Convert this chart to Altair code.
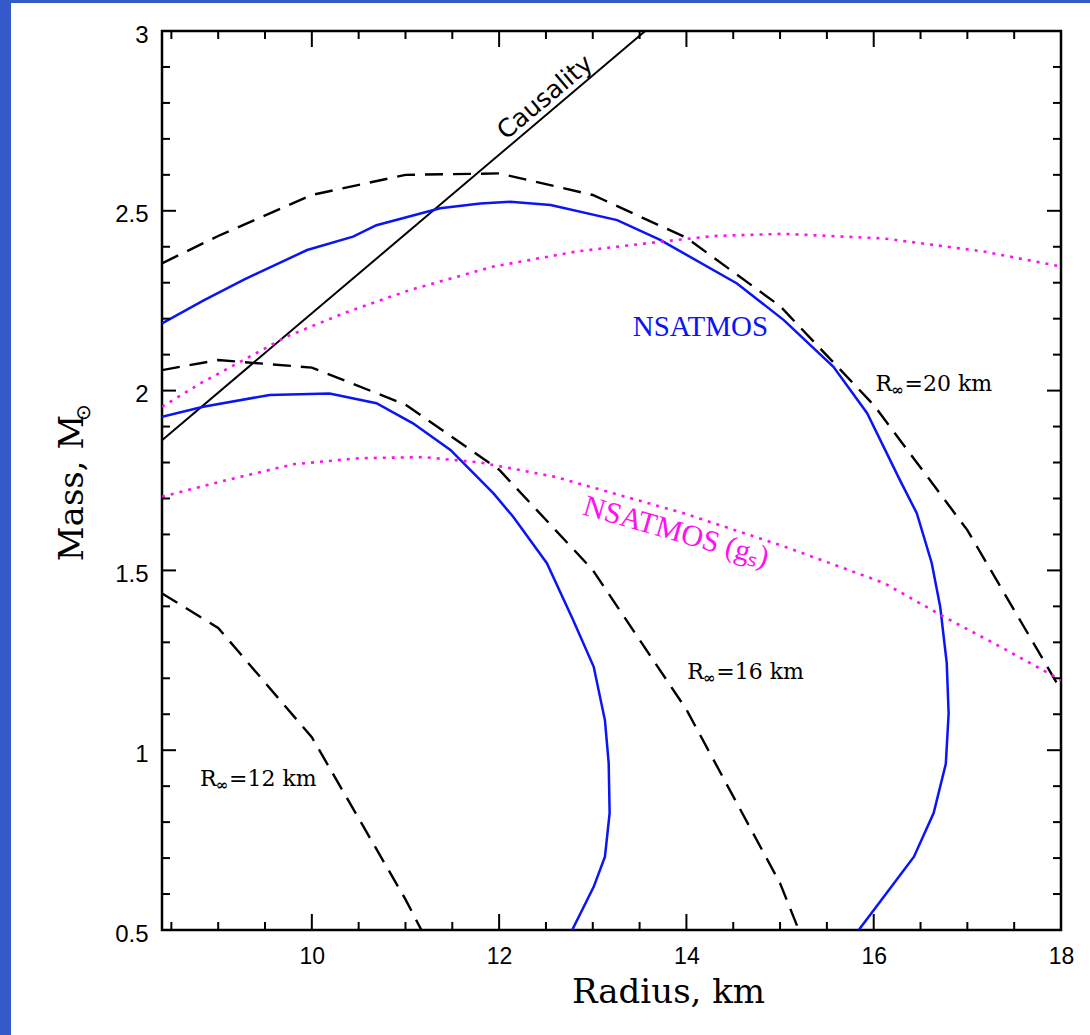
import altair as alt
import pandas as pd

# ---------------- data ----------------
# NSATMOS (upper, blue solid)
nsat_hi_R = [8.40, 8.84, 9.27, 9.95, 10.44, 10.69, 11.37, 11.80, 12.12, 12.55, 13.26, 13.72,
             14.54, 15.04, 15.57, 15.93, 16.28, 16.46, 16.62, 16.71, 16.78, 16.80, 16.77,
             16.64, 16.43, 16.11, 15.84]
nsat_hi_M = [2.187, 2.250, 2.308, 2.391, 2.428, 2.460, 2.507, 2.520, 2.525, 2.516, 2.474, 2.419,
             2.298, 2.196, 2.066, 1.937, 1.751, 1.659, 1.520, 1.399, 1.242, 1.102, 0.962,
             0.825, 0.704, 0.593, 0.500]
# NSATMOS (lower, blue solid)
nsat_lo_R = [8.40, 8.84, 9.55, 10.19, 10.69, 11.08, 11.48, 11.80, 11.94, 12.15, 12.51, 12.79,
             13.01, 13.13, 13.17, 13.18, 13.13, 13.01, 12.78]
nsat_lo_M = [1.927, 1.955, 1.988, 1.992, 1.965, 1.909, 1.835, 1.751, 1.714, 1.649, 1.520, 1.362,
             1.232, 1.083, 0.964, 0.825, 0.704, 0.620, 0.500]
# R_inf = 20 km (black dashed)
r20_R = [8.40, 9.0, 10.0, 11.0, 12.0, 13.0, 14.0, 15.0, 16.0, 17.0, 18.0]
r20_M = [2.354, 2.430, 2.544, 2.600, 2.604, 2.544, 2.425, 2.235, 1.960, 1.612, 1.167]
# R_inf = 16 km (black dashed)
r16_R = [8.40, 9.0, 10.0, 11.0, 12.0, 13.0, 14.0, 15.0, 15.20]
r16_M = [2.057, 2.085, 2.064, 1.961, 1.780, 1.501, 1.113, 0.630, 0.500]
# R_inf = 12 km (black dashed)
r12_R = [8.40, 9.0, 10.0, 11.0, 11.17]
r12_M = [1.436, 1.340, 1.036, 0.585, 0.500]
# NSATMOS (g_s), upper (magenta dotted)
gs_hi_R = [8.40, 8.81, 9.27, 9.73, 10.34, 11.05, 11.94, 12.83, 13.72, 14.30, 15.04, 16.11, 17.17, 18.0]
gs_hi_M = [1.955, 2.020, 2.085, 2.150, 2.215, 2.280, 2.345, 2.387, 2.414, 2.430, 2.436, 2.423, 2.387, 2.345]
# NSATMOS (g_s), lower (magenta dotted)
gs_lo_R = [8.40, 9.09, 9.80, 10.50, 11.20, 11.80, 12.60, 13.97, 15.04, 16.11, 16.75, 17.35, 18.0]
gs_lo_M = [1.705, 1.751, 1.795, 1.812, 1.815, 1.800, 1.760, 1.659, 1.567, 1.465, 1.371, 1.288, 1.195]
# causality limit
caus_R = [8.40, 13.56]
caus_M = [1.862, 3.00]

# axis ticks / labels
x_labels = [10, 12, 14, 16, 18]
x_major = [10, 12, 14, 16]
x_minor = [8.5, 9, 9.5, 10.5, 11, 11.5, 12.5, 13, 13.5, 14.5, 15, 15.5, 16.5, 17, 17.5]
y_labels = [0.5, 1, 1.5, 2, 2.5, 3]
y_major = [1, 1.5, 2, 2.5]
y_minor = [0.6, 0.7, 0.8, 0.9, 1.1, 1.2, 1.3, 1.4, 1.6, 1.7, 1.8, 1.9,
           2.1, 2.2, 2.3, 2.4, 2.6, 2.7, 2.8, 2.9]

# text labels
rinf_text = ["=20 km", "=16 km", "=12 km"]
rinf_R = [16.02, 14.01, 8.806]
rinf_M = [2.018, 1.217, 0.920]

W, H = 899, 899
BLUE = "#0a14f5"
MAG = "#ff10f0"

XS = alt.Scale(domain=[8.4, 18], nice=False, zero=False)
YS = alt.Scale(domain=[0.5, 3], nice=False, zero=False)

x_axis = alt.Axis(
    values=x_labels, format="d", title="Radius, km", ticks=False,
    domain=False, grid=False, labelFont="Liberation Sans", labelFontSize=23,
    labelPadding=15, labelColor="black", labelFlush=False, labelOverlap=False,
    titleFont="DejaVu Serif", titleFontSize=34, titleFontWeight="normal",
    titleColor="black", titleX=506, titleY=72, titleAlign="center",
    titleBaseline="alphabetic",
)
y_axis = alt.Axis(
    values=y_labels, format="~g", title="Mass, M", ticks=False,
    domain=False, grid=False, labelFont="Liberation Sans", labelFontSize=24,
    labelPadding=14, labelColor="black", labelFlush=False, labelOverlap=False,
    labelBaseline="middle", labelOffset=4,
    titleFont="DejaVu Serif", titleFontSize=34, titleFontWeight="normal",
    titleColor="black", titleX=-80, titleY=456.5, titleAngle=270,
    titleAlign="center", titleBaseline="alphabetic",
)


def X(f):
    return alt.X(f"{f}:Q", scale=XS, axis=x_axis)


def Y(f):
    return alt.Y(f"{f}:Q", scale=YS, axis=y_axis)


def cdf(R, M):
    return pd.DataFrame({"R": R, "M": M, "i": list(range(len(R)))})


def line(R, M, color, width, dash=None):
    kw = dict(color=color, strokeWidth=width, clip=True)
    if dash:
        kw["strokeDash"] = dash
        kw["strokeCap"] = "butt"
    return alt.Chart(cdf(R, M)).mark_line(**kw).encode(
        x=X("R"), y=Y("M"), order="i:Q")


layers = [
    line(caus_R, caus_M, "black", 2),
    line(nsat_hi_R, nsat_hi_M, BLUE, 2.5),
    line(nsat_lo_R, nsat_lo_M, BLUE, 2.5),
    line(r20_R, r20_M, "black", 2.4, [18, 10]),
    line(r16_R, r16_M, "black", 2.4, [18, 10]),
    line(r12_R, r12_M, "black", 2.4, [18, 10]),
    line(gs_hi_R, gs_hi_M, MAG, 2.6, [3, 6]),
    line(gs_lo_R, gs_lo_M, MAG, 2.6, [3, 6]),
]


# inward ticks on all four sides
def xticks(vals, length):
    d = pd.DataFrame({"v": vals})
    b = alt.Chart(d).mark_rule(color="black", strokeWidth=2).encode(
        x=X("v"), y=alt.value(H), y2=alt.value(H - length))
    t = alt.Chart(d).mark_rule(color="black", strokeWidth=2).encode(
        x=X("v"), y=alt.value(0), y2=alt.value(length))
    return [b, t]


def yticks(vals, length):
    d = pd.DataFrame({"v": vals})
    l = alt.Chart(d).mark_rule(color="black", strokeWidth=2).encode(
        y=Y("v"), x=alt.value(0), x2=alt.value(length))
    r = alt.Chart(d).mark_rule(color="black", strokeWidth=2).encode(
        y=Y("v"), x=alt.value(W), x2=alt.value(W - length))
    return [l, r]


layers += xticks(x_major, 16) + xticks(x_minor, 8)
layers += yticks(y_major, 14) + yticks(y_minor, 8)


def text(df, **kw):
    return alt.Chart(df).mark_text(**kw).encode(x=X("R"), y=Y("M"), text="t:N")


layers.append(text(pd.DataFrame({"R": [12.49], "M": [2.816], "t": ["Causality"]}),
                   font="DejaVu Sans", fontSize=25, color="black", angle=320,
                   align="center", baseline="middle"))
layers.append(text(pd.DataFrame({"R": [14.15], "M": [2.177], "t": ["NSATMOS"]}),
                   font="Liberation Serif", fontSize=29, color=BLUE,
                   align="center", baseline="middle"))
layers.append(text(pd.DataFrame({"R": [13.89], "M": [1.607], "t": ["NSATMOS (g\u209b)"]}),
                   font="Liberation Serif", fontSize=30, color=MAG, angle=16,
                   align="center", baseline="middle"))

rinf = pd.DataFrame({"R": rinf_R, "M": rinf_M, "t": rinf_text})
rr = pd.DataFrame({"R": rinf_R, "M": rinf_M, "t": ["R"] * 3})
ri = pd.DataFrame({"R": rinf_R, "M": rinf_M, "t": ["\u221e"] * 3})
layers.append(text(rr, font="DejaVu Serif", fontSize=22, color="black",
                   align="left", baseline="middle"))
layers.append(text(ri, font="DejaVu Serif", fontSize=15, fontWeight="bold", color="black",
                   align="left", baseline="middle", dx=16, dy=6))
layers.append(text(rinf, font="DejaVu Serif", fontSize=22, color="black",
                   align="left", baseline="middle", dx=29))

# solar-mass subscript of the y title
layers.append(alt.Chart(pd.DataFrame({"t": ["\u2299"]})).mark_text(
    font="DejaVu Sans", fontSize=20, color="black", angle=270,
    align="center", baseline="middle", clip=False,
).encode(x=alt.value(-78.5), y=alt.value(381.5), text="t:N"))

# page border strips (decoration)
one = pd.DataFrame({"k": [0]})
layers.append(alt.Chart(one).mark_rect(color="#3459c8", clip=False).encode(
    x=alt.value(-162), x2=alt.value(-151), y=alt.value(-31), y2=alt.value(H + 105)))
layers.append(alt.Chart(one).mark_rect(color="#3459c8", clip=False).encode(
    x=alt.value(-162), x2=alt.value(W + 29), y=alt.value(-31), y2=alt.value(-28)))

chart = alt.layer(*layers).properties(
    width=W, height=H,
    autosize=alt.AutoSizeParams(type="none"),
    padding={"left": 162, "top": 31, "right": 29, "bottom": 105},
    background="white",
).configure_view(stroke="black", strokeWidth=2.5)

chart.save("out.html", embed_options={"renderer": "svg", "actions": False})
